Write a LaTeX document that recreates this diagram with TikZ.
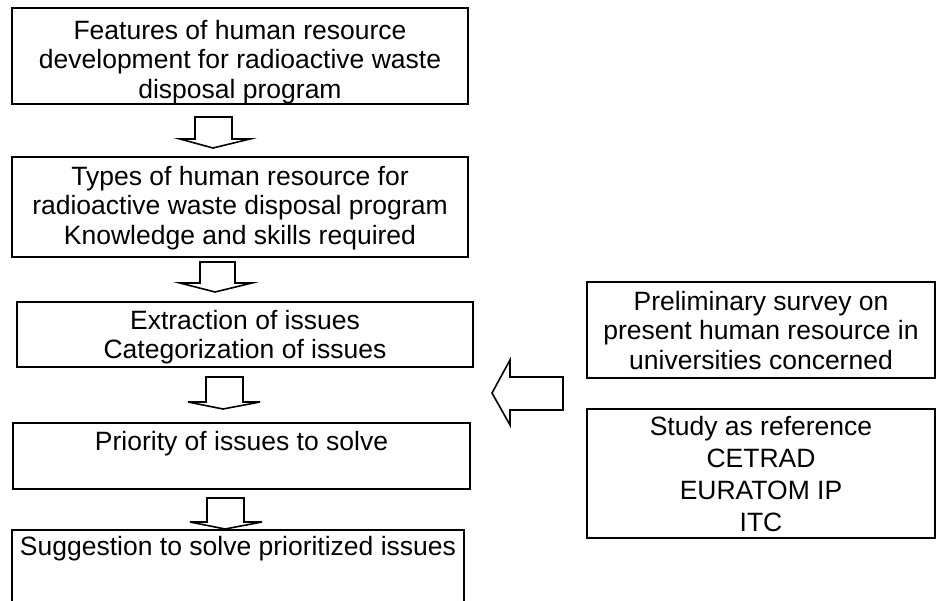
\documentclass[tikz,border=0pt]{standalone}
\usepackage{fontspec}
\setmainfont{Liberation Sans}
\tikzset{
		>=stealth,
		box/.style={draw=black, line width=1.9pt, inner sep=0pt},
		txt/.style={align=center, inner sep=0pt, anchor=north, font=\fontsize{26.5}{29.5}\selectfont},
		blockarrow/.style={draw=black, fill=white, line width=1.6pt}
	}

\begin{document}
\begin{tikzpicture}[x=1pt, y=-1pt]
        \useasboundingbox (0,0) rectangle (936,601);

        % draw the boxes
        \node[box, minimum width=456pt, minimum height=96pt] (feat) at (240,56) {};
        \node[box, minimum width=456pt, minimum height=100pt] (types) at (240,207) {};
        \node[box, minimum width=456pt, minimum height=65pt] (extr) at (245,334.5) {};
        \node[box, minimum width=457pt, minimum height=66pt] (prio) at (241.5,456) {};
        \node[box, minimum width=452pt, minimum height=100pt] (sugg) at (238,580) {};
        \node[box, minimum width=348pt, minimum height=96pt] (survey) at (761,330) {};
        \node[box, minimum width=348pt, minimum height=129pt] (study) at (761,473.5) {};

        % the texts
        \node[txt] (feattxt) at (240,20) {Features of human resource\\development for radioactive waste\\disposal program};
        \node[txt] (typestxt) at (240,166) {Types of human resource for\\radioactive waste disposal program\\Knowledge and skills required};
        \node[txt] (extrtxt) at (245,310) {Extraction of issues\\Categorization of issues};
        \node[txt] (priotxt) at (241.5,431) {Priority of issues to solve};
        \node[txt] (suggtxt) at (238,536) {Suggestion to solve prioritized issues};
        \node[txt] (surveytxt) at (761,291) {Preliminary survey on\\present human resource in\\universities concerned};
        \node[txt, font=\fontsize{26.5}{32}\selectfont] (studytxt) at (761,416) {Study as reference\\CETRAD\\EURATOM IP\\ITC};

        % draw the arrows (hollow block arrows)
        \draw[blockarrow] (195,117) -- (195,139) -- (180,139) -- (213,148) -- (250,139) -- (232,139) -- (232,117) -- cycle;
        \draw[blockarrow] (200,262) -- (200,283) -- (180,283) -- (215,292) -- (252,283) -- (235,283) -- (235,262) -- cycle;
        \draw[blockarrow] (206,377) -- (206,402) -- (188,402) -- (223,409) -- (260,402) -- (243,402) -- (243,377) -- cycle;
        \draw[blockarrow] (207,498) -- (207,522) -- (190,522) -- (225,529) -- (262,522) -- (244,522) -- (244,498) -- cycle;
        \draw[blockarrow] (492,393) -- (510,360) -- (510,377) -- (563,377) -- (563,410) -- (510,410) -- (510,425) -- cycle;

\end{tikzpicture}
\end{document}
